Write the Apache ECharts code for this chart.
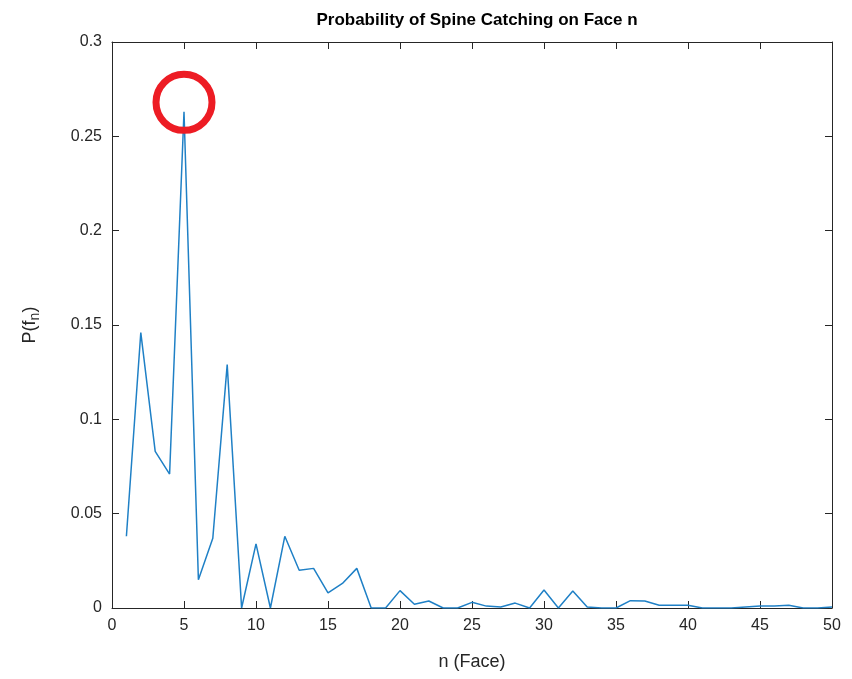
<!DOCTYPE html>
<html><head><meta charset="utf-8">
<script src="https://cdn.jsdelivr.net/npm/echarts@6/dist/echarts.min.js"></script>
<style>html,body{margin:0;padding:0;background:#fff}#c{width:852px;height:679px}</style>
</head><body><div id="c"></div>
<script>
const faces = [];
for (let i = 1; i <= 50; i++) faces.push(i);
const probs = [0.038,0.146,0.083,0.071,0.263,0.015,0.037,0.129,0.0,0.034,
               0.0,0.038,0.020,0.021,0.008,0.013,0.021,0.0,0.0,0.0092,
               0.002,0.0037,0.0,0.0,0.003,0.001,0.0005,0.0026,0.0,0.0095,
               0.0,0.009,0.0005,0.0,0.0,0.0039,0.0037,0.0015,0.0015,0.0015,
               0.0,0.0,0.0,0.0005,0.001,0.001,0.0015,0.0,0.0,0.0005];
const highlight = [[5, 0.268]];
const xTicks = {min: 0, max: 50, interval: 5};
const yTicks = {min: 0, max: 0.3, interval: 0.05};

const chart = echarts.init(document.getElementById('c'));
const font = 'Liberation Sans, Arial, Helvetica, sans-serif';
const axColor = '#262626';
const tickStyle = () => ({show: true, inside: true, length: 7, lineStyle: {color: axColor, width: 1}});
const lineStyleAx = () => ({show: true, onZero: false, lineStyle: {color: axColor, width: 1}});
chart.setOption({
  animation: false,
  title: {text: 'Probability of Spine Catching on Face n', left: 472, top: 7, textAlign: 'center',
          textStyle: {fontFamily: font, fontWeight: 'bold', fontSize: 17, color: '#000'}},
  grid: {left: 112, right: 20, top: 42, bottom: 71},
  xAxis: [{
    type: 'value', min: xTicks.min, max: xTicks.max, interval: xTicks.interval,
    name: 'n (Face)', nameLocation: 'middle', nameGap: 45,
    nameTextStyle: {fontFamily: font, fontSize: 18, color: axColor},
    axisLine: lineStyleAx(), axisTick: tickStyle(), splitLine: {show: false},
    axisLabel: {fontFamily: font, fontSize: 16, color: axColor, margin: 10}
  }, {
    type: 'value', position: 'top', min: xTicks.min, max: xTicks.max, interval: xTicks.interval,
    axisLine: lineStyleAx(), axisTick: tickStyle(), splitLine: {show: false}, axisLabel: {show: false}
  }],
  yAxis: [{
    type: 'value', min: yTicks.min, max: yTicks.max, interval: yTicks.interval,
    name: 'P(f{sub|n})', nameLocation: 'middle', nameGap: 70, nameRotate: 90,
    nameTextStyle: {fontFamily: font, fontSize: 18, color: axColor,
      rich: {sub: {fontFamily: font, fontSize: 14, color: axColor, verticalAlign: 'bottom', padding: [10,0,0,0]}}},
    axisLine: lineStyleAx(), axisTick: tickStyle(), splitLine: {show: false},
    axisLabel: {fontFamily: font, fontSize: 16, color: axColor, margin: 10}
  }, {
    type: 'value', position: 'right', min: yTicks.min, max: yTicks.max, interval: yTicks.interval,
    axisLine: lineStyleAx(), axisTick: tickStyle(), splitLine: {show: false}, axisLabel: {show: false}
  }],
  series: [{
    type: 'line', data: faces.map((f, i) => [f, probs[i]]),
    showSymbol: false, lineStyle: {color: '#1f80c6', width: 1.5}
  }, {
    type: 'scatter', data: highlight, symbol: 'circle', symbolSize: 56,
    itemStyle: {color: 'rgba(0,0,0,0)', borderColor: '#ED1C24', borderWidth: 7, opacity: 1},
    z: 5
  }]
});
</script></body></html>
